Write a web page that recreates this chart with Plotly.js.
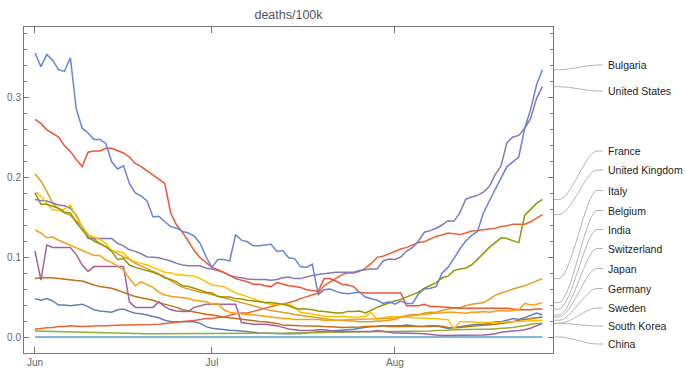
<!DOCTYPE html>
<html><head><meta charset="utf-8">
<script src="https://cdn.plot.ly/plotly-3.0.1.min.js"></script>
<style>html,body{margin:0;padding:0;background:#fff}#chart{width:685px;height:375px}</style>
</head><body><div id="chart"></div>
<script>
// ---- data (deaths per 100k, daily from 2021-06-01) ----
const startDate = [2021, 5, 1];
const nDays = 87;
const tickVals = ['2021-06-01', '2021-07-01', '2021-08-01'];
const tickText = ['Jun', 'Jul', 'Aug'];

const switzerland = [.048,.046,.048,.045,.040,.040,.039,.040,.041,.038,
 .034,.0325,.032,.031,.034,.035,.032,.0296,.029,.0275,
 .026,.024,.021,.0195,.019,.019,.019,.019,.017,.013,
 .011,.010,.009,.0085,.008,.0075,.0067,.006,.005,.0046,
 .0042,.004,.004,.004,.004,.0045,.005,.006,.0067,.007,
 .0075,.008,.0085,.009,.0096,.011,.012,.013,.013,.014,
 .014,.014,.014,.015,.014,.013,.013,.013,.014,.012,
 .0105,.012,.013,.014,.015,.016,.016,.017,.019,.019,
 .021,.023,.022,.024,.027,.030,.0275];
const italy = [.204,.195,.182,.167,.160,.155,.152,.145,.138,.128,
 .122,.117,.113,.108,.104,.100,.097,.092,.089,.085,
 .082,.079,.075,.070,.066,.062,.060,.058,.056,.055,
 .053,.051,.049,.047,.045,.043,.041,.039,.037,.035,
 .033,.032,.031,.0296,.028,.027,.026,.025,.024,.023,
 .022,.021,.021,.020,.020,.019,.019,.019,.020,.020,
 .021,.022,.025,.027,.028,.028,.030,.031,.031,.033,
 .035,.036,.037,.039,.041,.042,.043,.047,.052,.055,
 .057,.060,.062,.064,.067,.070,.073];
const southKorea = [.0075,.0073,.007,.0068,.0066,.0063,.006,.0058,.0055,.0053,
 .005,.0048,.0046,.0044,.0042,.004,.004,.004,.004,.004,
 .004,.004,.004,.004,.004,.004,.004,.004,.004,.004,
 .004,.004,.004,.0042,.0044,.0046,.0046,.0046,.0046,.0046,
 .0046,.0046,.0048,.005,.005,.005,.0052,.0054,.0054,.0056,
 .006,.0063,.0065,.0067,.0067,.0067,.0067,.0067,.0067,.0067,
 .0067,.0067,.0067,.0067,.0068,.007,.0072,.0075,.008,.008,
 .0085,.009,.0093,.0096,.0096,.0096,.0096,.0096,.010,.011,
 .011,.012,.013,.014,.016,.017,.017];
const unitedKingdom = [.0096,.011,.0117,.012,.013,.013,.014,.0135,.013,.0135,
 .014,.014,.014,.0145,.015,.015,.015,.015,.015,.015,
 .0155,.016,.017,.018,.019,.0195,.020,.0205,.022,.023,
 .023,.0245,.025,.027,.029,.030,.030,.032,.034,.036,
 .038,.040,.041,.043,.045,.048,.0505,.0525,.055,.064,
 .069,.074,.078,.080,.080,.082,.086,.092,.0996,.101,
 .104,.1075,.110,.112,.115,.118,.119,.123,.126,.1275,
 .130,.129,.128,.130,.1325,.133,.134,.135,.136,.138,
 .139,.141,.141,.141,.144,.148,.153];
const unitedStates = [.172,.1705,.170,.167,.165,.164,.161,.152,.138,.123,
 .123,.123,.123,.123,.117,.114,.109,.107,.104,.100,
 .0996,.099,.097,.095,.092,.090,.089,.089,.089,.086,
 .085,.083,.081,.077,.075,.074,.0725,.072,.072,.072,
 .071,.072,.074,.075,.073,.073,.075,.077,.078,.079,
 .080,.081,.081,.081,.081,.083,.084,.085,.085,.095,
 .0975,.097,.100,.1075,.112,.120,.131,.133,.136,.140,
 .1454,.1446,.155,.172,.175,.177,.181,.188,.203,.214,
 .243,.250,.252,.261,.273,.298,.313];
const japan = [.073,.074,.074,.074,.073,.072,.071,.0705,.070,.067,
 .065,.063,.062,.061,.0585,.056,.053,.0505,.049,.0475,
 .046,.043,.041,.039,.037,.034,.0325,.031,.0296,.0285,
 .0275,.026,.025,.024,.023,.022,.021,.020,.0195,.019,
 .018,.017,.015,.015,.0145,.014,.014,.014,.0135,.013,
 .013,.0125,.012,.012,.012,.0125,.013,.013,.0135,.014,
 .013,.013,.013,.013,.013,.013,.0135,.014,.014,.0135,
 .012,.0115,.012,.013,.0135,.014,.0145,.015,.016,.017,
 .018,.019,.021,.022,.0235,.0246,.025];
const china = [0,0,0,0,0,0,0,0,0,0,
 0,0,0,0,0,0,0,0,0,0,
 0,0,0,0,0,0,0,0,0,0,
 0,0,0,0,0,0,0,0,0,0,
 0,0,0,0,0,0,0,0,0,0,
 0,0,0,0,0,0,0,0,0,0,
 0,0,0,0,0,0,0,0,0,0,
 0,0,0,0,0,0,0,0,0,0,
 0,0,0,0,0,0,0];
const germany = [.181,.176,.167,.159,.158,.160,.165,.150,.138,.1275,
 .125,.122,.117,.1075,.107,.105,.098,.094,.092,.090,
 .087,.084,.081,.080,.078,.0775,.077,.076,.073,.069,
 .065,.064,.063,.059,.055,.053,.0505,.048,.045,.0425,
 .041,.041,.041,.041,.037,.031,.0296,.029,.0275,.026,
 .0254,.0254,.026,.0254,.0246,.025,.026,.031,.022,.024,
 .0254,.025,.025,.025,.024,.024,.0235,.023,.023,.022,
 .022,.010,.019,.019,.019,.018,.018,.018,.018,.0185,
 .019,.019,.0195,.020,.020,.0205,.021];
const sweden = [.1075,.071,.115,.112,.112,.112,.112,.103,.090,.082,
 .088,.088,.088,.088,.088,.088,.044,.037,.037,.037,
 .037,.044,.038,.034,.0325,.032,.032,.037,.039,.041,
 .041,.041,.041,.041,.041,.018,.017,.016,.016,.016,
 .015,.014,.012,.010,.009,.008,.008,.008,.009,.009,
 .008,.007,.007,.007,.007,.007,.007,.007,.008,.007,
 .006,.005,.005,.005,.005,.0045,.004,.003,.0025,.002,
 .002,.002,.002,.002,.0022,.0022,.0025,.003,.004,.006,
 .007,.0075,.008,.009,.011,.014,.017];
const france = [.180,.166,.166,.163,.161,.156,.155,.143,.134,.125,
 .120,.117,.113,.107,.097,.098,.090,.087,.085,.083,
 .081,.078,.074,.072,.069,.064,.063,.061,.058,.056,
 .055,.0505,.050,.050,.048,.0475,.046,.045,.044,.043,
 .043,.042,.041,.039,.036,.035,.035,.034,.0325,.032,
 .031,.030,.030,.032,.032,.0325,.030,.034,.037,.040,
 .043,.045,.047,.050,.053,.056,.061,.064,.068,.074,
 .076,.083,.085,.086,.090,.097,.105,.112,.118,.124,
 .123,.120,.118,.152,.159,.167,.172];
const india = [.272,.267,.259,.255,.250,.239,.232,.222,.213,.231,
 .2325,.2325,.236,.236,.2325,.230,.225,.217,.213,.208,
 .203,.198,.192,.155,.140,.131,.120,.108,.099,.093,
 .087,.084,.081,.077,.073,.071,.069,.066,.066,.064,
 .063,.068,.066,.064,.063,.062,.059,.058,.057,.073,
 .073,.070,.066,.065,.063,.056,.055,.055,.055,.055,
 .055,.055,.055,.039,.039,.039,.041,.038,.038,.0375,
 .037,.036,.036,.036,.036,.036,.0355,.0355,.0355,.036,
 .036,.035,.034,.034,.034,.035,.035];
const bulgaria = [.355,.338,.353,.346,.334,.332,.349,.285,.261,.255,
 .247,.247,.242,.219,.210,.214,.192,.180,.176,.170,
 .150,.151,.144,.138,.136,.132,.130,.126,.117,.100,
 .087,.097,.097,.095,.128,.121,.119,.114,.114,.115,
 .116,.107,.108,.099,.098,.088,.087,.091,.053,.059,
 .060,.057,.055,.054,.055,.056,.050,.048,.046,.042,
 .044,.041,.045,.042,.042,.054,.060,.061,.063,.080,
 .087,.098,.110,.120,.127,.132,.155,.170,.185,.200,
 .213,.219,.225,.261,.284,.315,.334];
const belgium = [.134,.130,.124,.125,.121,.118,.115,.112,.109,.105,
 .102,.102,.096,.093,.088,.084,.073,.064,.069,.065,
 .062,.056,.0525,.051,.050,.049,.048,.046,.045,.044,
 .041,.042,.034,.031,.0296,.029,.028,.028,.027,.026,
 .025,.024,.023,.023,.022,.022,.022,.022,.022,.021,
 .021,.021,.021,.022,.022,.022,.0225,.0225,.023,.023,
 .023,.024,.025,.026,.027,.028,.0285,.029,.030,.030,
 .031,.031,.030,.0296,.031,.031,.032,.031,.0325,.033,
 .0325,.033,.034,.042,.040,.041,.043];

const countries = ['Switzerland','Italy','South Korea','United Kingdom','United States','Japan','China','Germany','Sweden','France','India','Bulgaria','Belgium'];
const seriesValues = [switzerland, italy, southKorea, unitedKingdom, unitedStates, japan, china, germany, sweden, france, india, bulgaria, belgium];

// ---- styles / layout ----
const colors = ['#5E81B5','#E19C24','#8FB032','#EB6235','#8778B3','#C56E1A','#5D9EC7','#FFBF00','#A5609D','#929600','#E95536','#6685D9','#F89F13'];
const labelOrder = ['Bulgaria','United States','France','United Kingdom','Italy','Belgium','India','Switzerland','Japan','Germany','Sweden','South Korea','China'];
const labelPixelY = [65, 91, 151, 170, 190.5, 210.5, 229.5, 248.5, 268.5, 288.5, 308, 326, 344];

const W = 685, H = 375;
const M = {l: 24, r: 132, t: 27, b: 22};
const plotW = W - M.l - M.r, plotH = H - M.t - M.b;
const yRange = [-0.02, 0.3875];
const xRange = ['2021-05-30 03:17', '2021-08-27 19:12'];

const dates = [];
for (let i = 0; i < nDays; i++) {
  const d = new Date(Date.UTC(startDate[0], startDate[1], startDate[2] + i));
  dates.push(d.toISOString().slice(0, 10));
}

const traces = countries.map((c, i) => ({
  type: 'scatter', mode: 'lines', name: c,
  x: dates, y: seriesValues[i],
  line: {color: colors[i], width: 1.5},
  hoverinfo: 'skip', showlegend: false
}));

const pxX = px => (px - M.l) / plotW;
const pxY = py => (H - M.b - py) / plotH;
const valY = v => (v - yRange[0]) / (yRange[1] - yRange[0]);

const shapes = [], annotations = [];
labelOrder.forEach((name, k) => {
  const idx = countries.indexOf(name);
  const vals = seriesValues[idx];
  const y0 = valY(vals[vals.length - 1]);
  const yl = pxY(labelPixelY[k]);
  const path = `M ${pxX(554)} ${y0} L ${pxX(559)} ${y0} C ${pxX(571)} ${y0}, ${pxX(586)} ${yl}, ${pxX(597)} ${yl} L ${pxX(603)} ${yl}`;
  shapes.push({type: 'path', xref: 'paper', yref: 'paper', path: path,
    line: {color: '#b4b4b4', width: 1}, layer: 'above'});
  annotations.push({xref: 'paper', yref: 'paper', x: pxX(606), y: yl,
    xanchor: 'left', yanchor: 'middle', showarrow: false, text: name,
    font: {family: 'Liberation Sans, Arial, sans-serif', size: 10.5, color: '#222'}});
});

const axisCommon = {
  showline: true, linecolor: '#777', linewidth: 1, mirror: 'ticks',
  showgrid: false, zeroline: false, ticks: 'inside', tickcolor: '#777',
  tickfont: {family: 'Liberation Sans, Arial, sans-serif', size: 10, color: '#666'}
};

const layout = {
  width: W, height: H, margin: M,
  paper_bgcolor: '#fff', plot_bgcolor: '#fff',
  showlegend: false,
  title: {text: 'deaths/100k', xref: 'paper', x: 0.5, xanchor: 'center',
    yref: 'container', y: 1 - 15 / H, yanchor: 'middle',
    font: {family: 'Liberation Sans, Arial, sans-serif', size: 12.5, color: '#555'}},
  xaxis: Object.assign({}, axisCommon, {
    type: 'date', range: xRange, tickmode: 'array', tickvals: tickVals, ticktext: tickText,
    ticklen: 6
  }),
  yaxis: Object.assign({}, axisCommon, {
    range: yRange, tickmode: 'linear', tick0: 0, dtick: 0.1, tickformat: '.1f', ticklen: 5,
    minor: {dtick: 0.02, tick0: 0, ticks: 'inside', ticklen: 3, tickcolor: '#777', showgrid: false}
  }),
  shapes: shapes, annotations: annotations
};

Plotly.newPlot('chart', traces, layout, {displayModeBar: false, staticPlot: true});
</script>
</body></html>
